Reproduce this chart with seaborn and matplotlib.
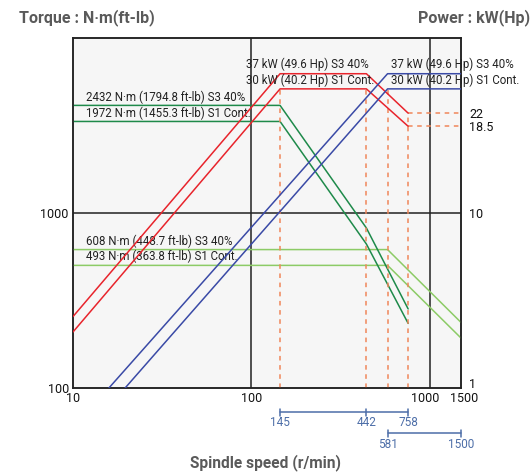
import matplotlib
matplotlib.use("Agg")
import matplotlib.pyplot as plt
import matplotlib.transforms as mtransforms
import seaborn as sns

# ----------------------------------------------------
# Data (positions on the log axes)
# ----------------------------------------------------
# power curves, right axis (kW scale 1..100)
red_s3_x = [10, 145, 442, 758]
red_s3_y = [2.56, 62.5, 62.5, 37.2]
red_s1_x = [10, 145, 442, 758]
red_s1_y = [2.09, 51.2, 51.2, 31.3]
blue_s3_x = [15.9, 581, 1500]
blue_s3_y = [1.0, 62.5, 62.5]
blue_s1_x = [19.6, 581, 1500]
blue_s1_y = [1.0, 51.2, 51.2]

# torque curves, left axis (N·m scale 100..10000)
dkgreen_s3_x = [10, 145, 442, 758]
dkgreen_s3_y = [4120, 4120, 821, 283]
dkgreen_s1_x = [10, 145, 442, 758]
dkgreen_s1_y = [3335, 3335, 665, 234]
ltgreen_s3_x = [10, 581, 1500]
ltgreen_s3_y = [618, 618, 237]
ltgreen_s1_x = [10, 581, 1500]
ltgreen_s1_y = [502, 502, 193]

# dashed guide lines (speed, top of the dashed line on the power axis)
guide_speeds = [145, 442, 581, 758]
guide_tops = [51.2, 51.2, 51.2, 37.2]
end_levels = [37.2, 31.3]
end_labels = ["22", "18.5"]

range1 = [145, 442, 758]
range2 = [581, 1500]

torque_labels = [
    ("2432 N·m (1794.8 ft-lb) S3 40%", 4120),
    ("1972 N·m (1455.3 ft-lb) S1 Cont.", 3335),
    ("608 N·m (448.7 ft-lb) S3 40%", 618),
    ("493 N·m (363.8 ft-lb) S1 Cont.", 502),
]
power_labels = [("37 kW (49.6 Hp) S3 40%", 62.5), ("30 kW (40.2 Hp) S1 Cont.", 51.2)]
power_label_x = [93, 607]

# ----------------------------------------------------
# Style
# ----------------------------------------------------
sns.set_style("white")
plt.rcParams["font.family"] = ["Roboto", "DejaVu Sans"]

RED = "#e8242c"
BLUE = "#3a4aa6"
DKGREEN = "#1e8a4a"
LTGREEN = "#8ccb66"
ORANGE = "#f0875a"
STEEL = "#4d6ea8"
GREY = "#5a5a5a"
INK = "#222222"
LBL = 8.3

fig = plt.figure(figsize=(5.32, 4.72), dpi=100)
ax = fig.add_axes([73 / 532, 84 / 472, 388 / 532, 350 / 472])
ax.set_facecolor("#f6f6f6")
ax.set_xscale("log")
ax.set_yscale("log")
ax.set_xlim(10, 1500)
ax.set_ylim(100, 10000)

ax2 = ax.twinx()
ax2.set_yscale("log")
ax2.set_ylim(1, 100)

# grid
for v in [100, 1000]:
    ax.axvline(v, color=INK, lw=1.1, zorder=1)
ax.axhline(1000, color=INK, lw=1.1, zorder=1)

# dashed guides
for sx, top in zip(guide_speeds, guide_tops):
    ax2.plot([sx, sx], [1, top], color=ORANGE, lw=1.1, ls=(0, (3, 3)), zorder=2)
for lv in end_levels:
    ax2.plot([758, 1500], [lv, lv], color=ORANGE, lw=1.1, ls=(0, (3, 3)), zorder=2)

# curves
def curve(a, xs, ys, color):
    sns.lineplot(x=xs, y=ys, ax=a, color=color, lw=1.1, estimator=None,
                 sort=False, zorder=3)

curve(ax, ltgreen_s3_x, ltgreen_s3_y, LTGREEN)
curve(ax, ltgreen_s1_x, ltgreen_s1_y, LTGREEN)
curve(ax, dkgreen_s3_x, dkgreen_s3_y, DKGREEN)
curve(ax, dkgreen_s1_x, dkgreen_s1_y, DKGREEN)
curve(ax2, red_s3_x, red_s3_y, RED)
curve(ax2, red_s1_x, red_s1_y, RED)
curve(ax2, blue_s3_x, blue_s3_y, BLUE)
curve(ax2, blue_s1_x, blue_s1_y, BLUE)
ax2.set_xlim(10, 1500)

# ticks
ax.set_xticks([10, 100, 1000, 1500])
ax.set_xticklabels(["10", "100", "1000", "1500"])
ax.xaxis.set_minor_locator(matplotlib.ticker.NullLocator())
ax.set_yticks([100, 1000])
ax.set_yticklabels(["100", "1000"])
ax.yaxis.set_minor_locator(matplotlib.ticker.NullLocator())
ax2.set_yticks([1, 10] + end_levels)
ax2.set_yticklabels(["1", "10"] + end_labels)
ax2.yaxis.set_minor_locator(matplotlib.ticker.NullLocator())
ax.tick_params(axis="both", length=0, labelsize=9, pad=3, colors="#111111")
ax2.tick_params(axis="y", length=0, labelsize=9, pad=6, colors="#111111")
for a in (ax, ax2):
    for s in a.spines.values():
        s.set_color(INK)
        s.set_linewidth(1.1)

def nudge(lab, dx, dy):
    lab.set_transform(lab.get_transform() +
                      mtransforms.ScaledTranslation(dx / 100, dy / 100, fig.dpi_scale_trans))

# pull "1000" and "1500" apart a little, and lift the right "1", as in the reference
xlabels = ax.get_xticklabels()
nudge(xlabels[2], -4, 0)
nudge(xlabels[3], 3, 0)
nudge(ax2.get_yticklabels()[0], 0, 5)

# curve labels
for txt, yv in torque_labels:
    ax.text(11.8, yv * 1.025, txt, fontsize=LBL, va="bottom", ha="left",
            color=INK, zorder=4)
for px in power_label_x:
    for txt, yv in power_labels:
        ax2.text(px, yv * 1.03, txt, fontsize=LBL, va="bottom", ha="left",
                 color=INK, clip_on=False, zorder=4)

# speed range bars under the axis
trans = mtransforms.blended_transform_factory(ax.transData, fig.transFigure)
for xs, yfig, ylab in [(range1, 1 - 412.3 / 472, 1 - 423 / 472),
                       (range2, 1 - 433.3 / 472, 1 - 445 / 472)]:
    ax.plot([xs[0], xs[-1]], [yfig, yfig], color=STEEL, lw=1.1,
            transform=trans, clip_on=False)
    for v in xs:
        ax.plot([v, v], [yfig - 3.5 / 472, yfig + 3.5 / 472], color=STEEL,
                lw=1.1, transform=trans, clip_on=False)
        ax.text(v, ylab, str(v), transform=trans, ha="center", va="center",
                fontsize=8.5, color=STEEL)

# titles
fig.text(19 / 532, 1 - 18 / 472, "Torque : N·m(ft-lb)", fontsize=11.5,
         fontweight="bold", color=GREY, va="center", ha="left")
fig.text(530 / 532, 1 - 18 / 472, "Power : kW(Hp)", fontsize=11.5,
         fontweight="bold", color=GREY, va="center", ha="right")
fig.text(266 / 532, 1 - 463 / 472, "Spindle speed (r/min)", fontsize=11.2,
         fontweight="bold", color=GREY, va="center", ha="center")

fig.savefig("out.png", dpi=100)
